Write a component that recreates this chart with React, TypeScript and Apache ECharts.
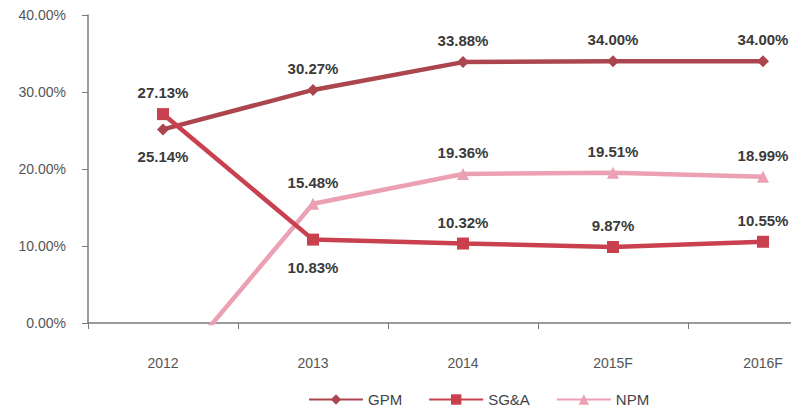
import React, { useEffect, useRef } from "react";
import * as echarts from "echarts";

const categories = ["2012", "2013", "2014", "2015F", "2016F"];
const gpm = [25.14, 30.27, 33.88, 34.0, 34.0];
const sga = [27.13, 10.83, 10.32, 9.87, 10.55];
const npm = [-7.7, 15.48, 19.36, 19.51, 18.99];
const yTicks = [0, 10, 20, 30, 40];

const gpmColor = "#ab464e";
const sgaColor = "#c9404f";
const npmColor = "#eba0b3";

const labelStyle = {
  show: true,
  position: "top" as const,
  distance: 8,
  fontFamily: "Liberation Sans, Arial, sans-serif",
  fontSize: 15,
  fontWeight: "bold" as const,
  color: "#3a3a3a",
  formatter: (p: any) => p.value.toFixed(2) + "%",
};

export default function App() {
  const ref = useRef<HTMLDivElement>(null);
  useEffect(() => {
    const chart = echarts.init(ref.current!, null, { renderer: "svg" });
    chart.setOption({
      animation: false,
      backgroundColor: "#ffffff",
      textStyle: { fontFamily: "Liberation Sans, Arial, sans-serif" },
      grid: {
        left: 88,
        top: 15,
        height: 308,
        width: 750,
        containLabel: false,
        outerBoundsMode: "none",
      },
      legend: {
        left: 303,
        top: 387,
        itemWidth: 54,
        itemHeight: 13,
        itemGap: 26,
        textStyle: { fontSize: 15, color: "#444", fontFamily: "Liberation Sans, Arial, sans-serif" },
        data: ["GPM", "SG&A", "NPM"],
      },
      xAxis: {
        type: "category",
        data: categories,
        boundaryGap: true,
        axisLine: { lineStyle: { color: "#7a7a7a", width: 1.5 } },
        axisTick: { show: true, length: 6, lineStyle: { color: "#7a7a7a" } },
        axisLabel: { margin: 33, fontSize: 14, color: "#555", fontFamily: "Liberation Sans, Arial, sans-serif" },
        splitLine: { show: false },
      },
      yAxis: {
        type: "value",
        min: yTicks[0],
        max: yTicks[yTicks.length - 1],
        interval: 10,
        axisLine: { show: true, lineStyle: { color: "#7a7a7a", width: 1.5 } },
        axisTick: { show: true, inside: false, length: 6, lineStyle: { color: "#7a7a7a" } },
        axisLabel: {
          margin: 22,
          fontSize: 14,
          color: "#555",
          fontFamily: "Liberation Sans, Arial, sans-serif",
          formatter: (v: number) => v.toFixed(2) + "%",
        },
        splitLine: { show: false },
      },
      series: [
        {
          name: "GPM",
          type: "line",
          clip: true,
          data: gpm.map((v, i) =>
            i === 0 ? { value: v, label: { position: "bottom", distance: 14 } } : v
          ),
          symbol: "diamond",
          symbolSize: 12,
          lineStyle: { color: gpmColor, width: 4.5 },
          itemStyle: { color: gpmColor },
          label: labelStyle,
          z: 3,
        },
        {
          name: "SG&A",
          type: "line",
          clip: true,
          data: sga.map((v, i) =>
            i === 1 ? { value: v, label: { position: "bottom", distance: 14 } } : v
          ),
          symbol: "rect",
          symbolSize: 12,
          lineStyle: { color: sgaColor, width: 4.5 },
          itemStyle: { color: sgaColor },
          label: labelStyle,
          z: 4,
        },
        {
          name: "NPM",
          type: "line",
          clip: true,
          data: npm.map((v, i) =>
            i === 0 ? { value: v, symbol: "none", label: { show: false } } : v
          ),
          symbol: "triangle",
          symbolSize: 12,
          lineStyle: { color: npmColor, width: 4.5 },
          itemStyle: { color: npmColor },
          label: labelStyle,
          z: 2,
        },
      ],
    });
    return () => chart.dispose();
  }, []);
  return (
    <div
      ref={ref}
      style={{ position: "absolute", left: 0, top: 0, width: 791, height: 411 }}
    />
  );
}
